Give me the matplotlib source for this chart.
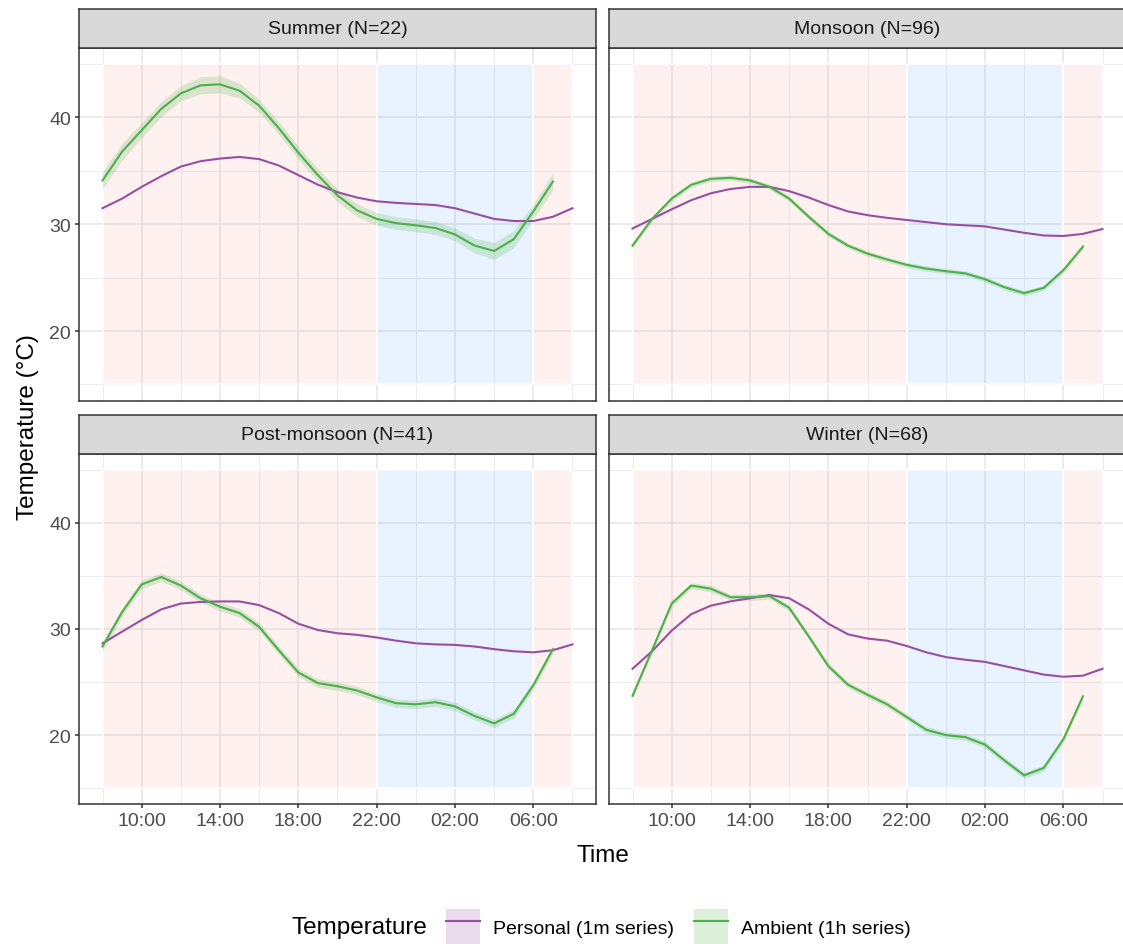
import matplotlib.pyplot as plt
from matplotlib.patches import Patch, Rectangle
from matplotlib.lines import Line2D

plt.rcParams['font.family'] = ['Liberation Sans', 'DejaVu Sans']

# facets
seasons = ["Summer (N=22)", "Monsoon (N=96)", "Post-monsoon (N=41)", "Winter (N=68)"]

# hours since midnight of day 1 (8 = 08:00, 32 = 08:00 next day)
hours_personal = list(range(8, 33))
hours_ambient = list(range(8, 32))
tick_hours = [10, 14, 18, 22, 26, 30]
tick_labels = ["10:00", "14:00", "18:00", "22:00", "02:00", "06:00"]
minor_hours = [8, 12, 16, 20, 24, 28, 32]
y_ticks = [20, 30, 40]

# day / night bands
band_start = [8, 22, 30]
band_end = [22, 30, 32]
band_kind = ["day", "night", "day"]
band_low, band_high = 15, 45

# personal (1m series, smoothed)
personal = {
    "Summer (N=22)": [31.5, 32.4, 33.5, 34.5, 35.4, 35.9, 36.15, 36.3, 36.1, 35.5, 34.6, 33.7, 33.0,
                      32.5, 32.15, 32.0, 31.9, 31.8, 31.5, 31.0, 30.5, 30.3, 30.3, 30.7, 31.5],
    "Monsoon (N=96)": [29.6, 30.5, 31.4, 32.25, 32.9, 33.3, 33.5, 33.5, 33.1, 32.5, 31.8, 31.2, 30.85,
                       30.6, 30.4, 30.2, 30.0, 29.9, 29.8, 29.5, 29.2, 28.95, 28.9, 29.1, 29.55],
    "Post-monsoon (N=41)": [28.65, 29.75, 30.85, 31.85, 32.4, 32.55, 32.6, 32.6, 32.25, 31.5, 30.5, 29.9, 29.6,
                            29.45, 29.2, 28.9, 28.65, 28.55, 28.5, 28.35, 28.1, 27.9, 27.8, 28.0, 28.55],
    "Winter (N=68)": [26.25, 27.9, 29.85, 31.4, 32.2, 32.6, 32.9, 33.2, 32.9, 31.85, 30.5, 29.5, 29.1,
                      28.9, 28.4, 27.8, 27.35, 27.1, 26.9, 26.5, 26.1, 25.7, 25.5, 25.6, 26.25],
}

# ambient (1h series)
ambient = {
    "Summer (N=22)": [34.1, 36.8, 38.8, 40.8, 42.25, 43.0, 43.1, 42.5, 41.1, 39.0, 36.7, 34.6,
                      32.7, 31.3, 30.5, 30.1, 29.9, 29.65, 29.05, 28.0, 27.5, 28.6, 31.2, 34.0],
    "Monsoon (N=96)": [28.0, 30.5, 32.4, 33.7, 34.25, 34.35, 34.1, 33.5, 32.4, 30.7, 29.1, 28.0,
                       27.25, 26.7, 26.2, 25.85, 25.6, 25.4, 24.85, 24.1, 23.55, 24.05, 25.7, 27.9],
    "Post-monsoon (N=41)": [28.35, 31.6, 34.2, 34.9, 34.1, 32.9, 32.1, 31.5, 30.2, 28.0, 25.9, 24.9,
                            24.6, 24.2, 23.55, 23.0, 22.9, 23.1, 22.7, 21.8, 21.1, 22.0, 24.7, 28.1],
    "Winter (N=68)": [23.7, 28.0, 32.4, 34.1, 33.8, 33.0, 33.0, 33.1, 32.0, 29.3, 26.5, 24.75,
                      23.8, 22.9, 21.7, 20.5, 20.0, 19.8, 19.1, 17.6, 16.2, 16.9, 19.6, 23.65],
}

# half width of the ambient confidence band
ambient_ci = {
    "Summer (N=22)": [0.8, 0.8, 0.7, 0.7, 0.7, 0.8, 0.8, 0.7, 0.6, 0.6, 0.6, 0.6,
                      0.6, 0.6, 0.6, 0.6, 0.6, 0.6, 0.6, 0.7, 0.8, 0.8, 0.7, 0.8],
    "Monsoon (N=96)": [0.25] * 24,
    "Post-monsoon (N=41)": [0.4] * 24,
    "Winter (N=68)": [0.3] * 24,
}

purple = "#984EA3"
green = "#4DAF4A"
band_colors = {"day": ("#FA8072", 0.11), "night": ("#1E90FF", 0.1)}

W, H = 1123, 945
fig = plt.figure(figsize=(W / 100, H / 100), dpi=100)

col_x = [79, 609]
row_y = [(49, 401.5), (455, 805)]
pw = 517
strip_h = 39

for i, name in enumerate(seasons):
    r, c = divmod(i, 2)
    x0 = col_x[c]
    top, bot = row_y[r]
    ax = fig.add_axes([x0 / W, 1 - bot / H, pw / W, (bot - top) / H])
    ax.set_axisbelow(True)

    for s, e, k in zip(band_start, band_end, band_kind):
        col, a = band_colors[k]
        ax.add_patch(Rectangle((s, band_low), e - s, band_high - band_low,
                               facecolor=col, alpha=a, edgecolor="none", zorder=1))
        ax.add_patch(Rectangle((s, band_low), e - s, band_high - band_low,
                               facecolor="none", edgecolor="white", lw=1.2, zorder=1.1))

    ax.plot(hours_personal, personal[name], color=purple, lw=1.5, zorder=3)
    amb = ambient[name]
    ci = ambient_ci[name]
    lo = [a - d for a, d in zip(amb, ci)]
    hi = [a + d for a, d in zip(amb, ci)]
    ax.fill_between(hours_ambient, lo, hi, color=green, alpha=0.2, lw=0, zorder=2)
    ax.plot(hours_ambient, amb, color=green, lw=1.5, zorder=4)

    ax.set_xlim(6.8, 33.2)
    ax.set_ylim(13.5, 46.5)
    ax.set_xticks(tick_hours)
    ax.set_xticklabels(tick_labels)
    ax.set_xticks(minor_hours, minor=True)
    ax.set_yticks(y_ticks)
    ax.set_yticks([15, 25, 35, 45], minor=True)
    ax.grid(which="major", color="#EBEBEB", lw=1.4)
    ax.grid(which="minor", color="#EBEBEB", lw=0.7)
    for sp in ax.spines.values():
        sp.set_color("#333333")
        sp.set_linewidth(1.1)
    ax.tick_params(which="minor", length=0)
    ax.tick_params(which="major", length=2.75, width=1.1, color="#333333",
                   labelsize=14, labelcolor="#4D4D4D", pad=3)
    if r == 0:
        ax.tick_params(axis="x", which="both", length=0, labelbottom=False)
    if c == 1:
        ax.tick_params(axis="y", which="both", length=0, labelleft=False)

    sax = fig.add_axes([x0 / W, 1 - top / H, pw / W, strip_h / H])
    sax.set_facecolor("#D9D9D9")
    sax.set_xticks([])
    sax.set_yticks([])
    for sp in sax.spines.values():
        sp.set_color("#333333")
        sp.set_linewidth(1.1)
    sax.text(0.5, 0.5, name, ha="center", va="center", fontsize=14,
             color="#1A1A1A", transform=sax.transAxes)

fig.text(28 / W, 1 - 427 / H, "Temperature (°C)", rotation=90, ha="center", va="center",
         fontsize=17.5, color="black")
fig.text(603 / W, 1 - 856 / H, "Time", ha="center", va="center", fontsize=17.5, color="black")

fig.text(292 / W, 1 - 928 / H, "Temperature", ha="left", va="center", fontsize=17.5)
handles = [
    (Patch(facecolor=purple, alpha=0.2, edgecolor="none"), Line2D([], [], color=purple, lw=1.5)),
    (Patch(facecolor=green, alpha=0.2, edgecolor="none"), Line2D([], [], color=green, lw=1.5)),
]
fig.legend(handles, ["Personal (1m series)", "Ambient (1h series)"], ncol=2,
           loc="center left", bbox_to_anchor=(446 / W, 1 - 928 / H), frameon=False,
           fontsize=14, handlelength=1.75, handleheight=2.4, handletextpad=0.67,
           columnspacing=1.03, borderpad=0, borderaxespad=0)

fig.savefig("out.png", dpi=100)
